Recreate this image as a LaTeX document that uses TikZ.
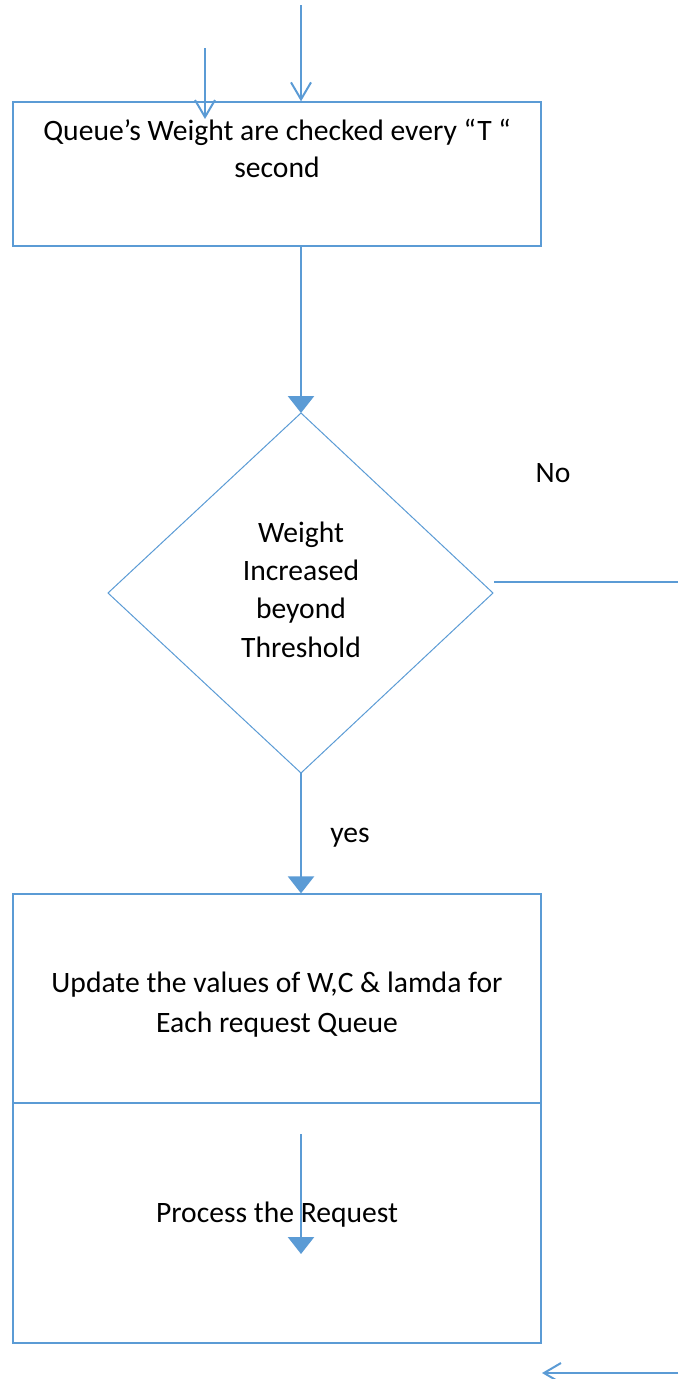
\documentclass[tikz,border=0pt]{standalone}
\usepackage{fontspec}
\setmainfont{Carlito}
\usetikzlibrary{arrows.meta}
\definecolor{flowblue}{HTML}{5B9BD5}
\tikzset{
  boxshape/.style={draw=flowblue, line width=1.3pt, fill=white, inner sep=0pt},
  txt/.style={font=\fontsize{29.6}{37}\selectfont, text=black, align=center, inner sep=0pt, anchor=base},
  openarrow/.style={draw=flowblue, line width=2pt, -{Straight Barb[width=20pt,length=17pt,line width=2pt]}},
  fillarrow/.style={draw=flowblue, line width=2.5pt, -{Triangle[width=26pt,length=17pt]}},
  plainline/.style={draw=flowblue, line width=2.5pt},
}
\begin{document}
\begin{tikzpicture}[x=1pt,y=-1pt]
\useasboundingbox (0,0) rectangle (678,1379);

% top box
\node[boxshape, minimum width=528pt, minimum height=144pt] (check) at (277,174) {};
\node[txt] (checktxt) at (277,140) {Queue’s Weight are checked every “T “};
\node[txt] (checktxt2) at (277,177) {second};

% diamond
\coordinate (dtop) at (301,413);
\coordinate (dleft) at (108,593);
\coordinate (dright) at (493,593);
\coordinate (dbot) at (301,773);
\draw[flowblue, line width=1pt] (dtop) -- (dright) -- (dbot) -- (dleft) -- cycle;
\node[txt] (d1) at (301,542) {Weight};
\node[txt] (d2) at (301,580) {Increased};
\node[txt] (d3) at (301,618) {beyond};
\node[txt] (d4) at (301,657) {Threshold};

\node[txt] (no) at (553,482) {No};
\node[txt] (yes) at (350,842) {yes};

% lower boxes
\node[boxshape, minimum width=528pt, minimum height=239pt] (upd) at (277,1013.5) {};
\node[txt] (updtxt) at (277,992) {Update the values of W,C \& lamda for};
\node[txt] (updtxt2) at (277,1032) {Each request Queue};
\node[boxshape, minimum width=528pt, minimum height=240pt] (proc) at (277,1223) {};
\node[txt] (proctxt) at (277,1222) {Process the Request};

% connectors
\coordinate (in1) at (301,5);
\draw[openarrow] (in1) -- (in1 |- check.north);
\coordinate (in2) at (205,48);
\coordinate (in2end) at (205,119);
\draw[openarrow] (in2) -- (in2end);

\draw[fillarrow] (check.south -| dtop) -- (dtop);
\coordinate (noend) at (678,582);
\draw[plainline] (494,582) -- (noend);
\draw[fillarrow] (dbot) -- (dbot |- upd.north);

\coordinate (p1) at (301,1134);
\coordinate (p2) at (301,1254);
\draw[fillarrow] (p1) -- (p2);

\coordinate (r1) at (678,1373);
\coordinate (r2) at (542,1373);
\draw[openarrow] (r1) -- (r2);
\end{tikzpicture}
\end{document}
